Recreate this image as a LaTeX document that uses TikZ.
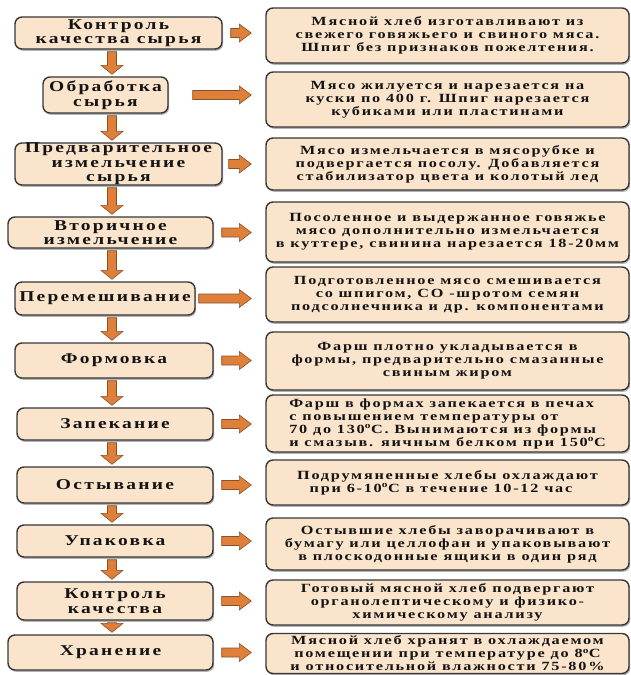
\documentclass[tikz,border=0pt]{standalone}
\usepackage{fontspec}
\setmainfont{Liberation Serif}
\newfontfamily\stepfont[FakeStretch=1.3,LetterSpace=15]{Liberation Serif}
\newfontfamily\descfont[FakeStretch=1.3,LetterSpace=14]{Liberation Serif}
\usetikzlibrary{calc,shadows}
\definecolor{boxfill}{RGB}{250,229,204}
\definecolor{boxline}{RGB}{55,55,55}
\definecolor{arrfill}{RGB}{222,128,58}
\definecolor{arrline}{RGB}{140,80,40}
\definecolor{txt}{RGB}{20,20,20}
\newcommand\harr[3]{%
 \path[arrstyle] let \p1=(#1.east), \p2=(#2.west) in
 (\x1+#3pt,\y1+4.5pt) -- (\x2-26pt,\y1+4.5pt) -- (\x2-26pt,\y1+9pt) -- (\x2-14pt,\y1)
 -- (\x2-26pt,\y1-9pt) -- (\x2-26pt,\y1-4.5pt) -- (\x1+#3pt,\y1-4.5pt) -- cycle;}
\newcommand\varr[2]{%
 \path[arrstyle] let \p1=(#1.south), \p2=(#2.north) in
 (107.5pt,\y1-2pt) -- (107.5pt,\y2+11pt) -- (101pt,\y2+11pt) -- (112pt,\y2+2pt)
 -- (123pt,\y2+11pt) -- (116.5pt,\y2+11pt) -- (116.5pt,\y1-2pt) -- cycle;}
\begin{document}
\begin{tikzpicture}[x=1pt,y=-1pt,
 box/.style={draw=boxline, line width=1.4pt, fill=boxfill, rounded corners=7pt,
   drop shadow={shadow xshift=1.2pt, shadow yshift=-1.8pt, fill=black!50, opacity=0.6},
   align=center, inner sep=0pt, text=txt},
 lbox/.style={box, font=\stepfont\bfseries\fontsize{15}{14.5}\selectfont},
 rbox/.style={box, minimum width=363pt, font=\descfont\bfseries\fontsize{12.5}{13}\selectfont},
 arrstyle/.style={fill=arrfill, draw=arrline, line width=0.6pt, line join=miter}]
\useasboundingbox (0,0) rectangle (631,675);
% left column
\node[lbox, minimum width=207pt, minimum height=32pt] (l1) at (118.5,33) {Контроль\\качества сырья};
\node[lbox, minimum width=125pt, minimum height=36pt] (l2) at (105.5,95) {Обработка\\сырья};
\node[lbox, minimum width=207pt, minimum height=42pt] (l3) at (118.5,164) {Предварительное\\измельчение\\сырья};
\node[lbox, minimum width=205pt, minimum height=31pt] (l4) at (110.5,232.5) {Вторичное\\измельчение};
\node[lbox, minimum width=180pt, minimum height=33pt] (l5) at (105,298.5) {Перемешивание};
\node[lbox, minimum width=198pt, minimum height=35pt] (l6) at (114,360.5) {Формовка};
\node[lbox, minimum width=196pt, minimum height=32pt] (l7) at (115,424) {Запекание};
\node[lbox, minimum width=196pt, minimum height=36pt] (l8) at (115,485) {Остывание};
\node[lbox, minimum width=196pt, minimum height=32pt] (l9) at (115,541) {Упаковка};
\node[lbox, minimum width=196pt, minimum height=38pt] (l10) at (115,601) {Контроль\\качества};
\node[lbox, minimum width=205pt, minimum height=35pt] (l11) at (110.5,652.5) {Хранение};
% right column
\node[rbox, minimum height=55pt] (r1) at (447.5,35.5) {Мясной хлеб изготавливают из\\свежего говяжьего и свиного мяса.\\Шпиг без признаков пожелтения.};
\node[rbox, minimum height=55pt] (r2) at (447.5,99.5) {Мясо жилуется и нарезается на\\куски по 400 г. Шпиг нарезается\\кубиками или пластинами};
\node[rbox, minimum height=52pt] (r3) at (447.5,164) {Мясо измельчается в мясорубке и\\подвергается посолу. Добавляется\\стабилизатор цвета и колотый лед};
\node[rbox, minimum height=60pt] (r4) at (447.5,232) {Посоленное и выдержанное говяжье\\мясо дополнительно измельчается\\в куттере, свинина нарезается 18-20мм};
\node[rbox, minimum height=55pt] (r5) at (447.5,294.5) {Подготовленное мясо смешивается\\со шпигом, СО -шротом семян\\подсолнечника и др. компонентами};
\node[rbox, minimum height=58pt] (r6) at (447.5,361) {Фарш плотно укладывается в\\формы, предварительно смазанные\\свиным жиром};
\node[rbox, minimum height=57pt, align=left] (r7) at (447.5,423.5) {Фарш в формах запекается в печах\\с повышением температуры от\\70 до 130\textsuperscript{o}C. Вынимаются из формы\\и смазыв. яичным белком при 150\textsuperscript{o}C};
\node[rbox, minimum height=45pt, align=left] (r8) at (447.5,482.5) {Подрумяненные хлебы охлаждают\\\hspace*{1em}при 6-10\textsuperscript{o}C в течение 10-12 час};
\node[rbox, minimum height=52pt] (r9) at (447.5,544) {Остывшие хлебы заворачивают в\\бумагу или целлофан и упаковывают\\в плоскодонные ящики в один ряд};
\node[rbox, minimum height=45pt] (r10) at (447.5,602.5) {Готовый мясной хлеб подвергают\\органолептическому и физико-\\химическому анализу};
\node[rbox, minimum height=40pt] (r11) at (447.5,653.5) {Мясной хлеб хранят в охлаждаемом\\помещении при температуре до 8\textsuperscript{o}C\\и относительной влажности 75-80\%};
% horizontal arrows
\harr{l1}{r1}{8}
\harr{l2}{r2}{24}
\harr{l3}{r3}{6}
\harr{l4}{r4}{8}
\harr{l5}{r5}{3}
\harr{l6}{r6}{8}
\harr{l7}{r7}{8}
\harr{l8}{r8}{8}
\harr{l9}{r9}{8}
\harr{l10}{r10}{8}
\harr{l11}{r11}{8}
% vertical arrows
\varr{l1}{l2}
\varr{l2}{l3}
\varr{l3}{l4}
\varr{l4}{l5}
\varr{l5}{l6}
\varr{l6}{l7}
\varr{l7}{l8}
\varr{l8}{l9}
\varr{l9}{l10}
\varr{l10}{l11}
\end{tikzpicture}
\end{document}
